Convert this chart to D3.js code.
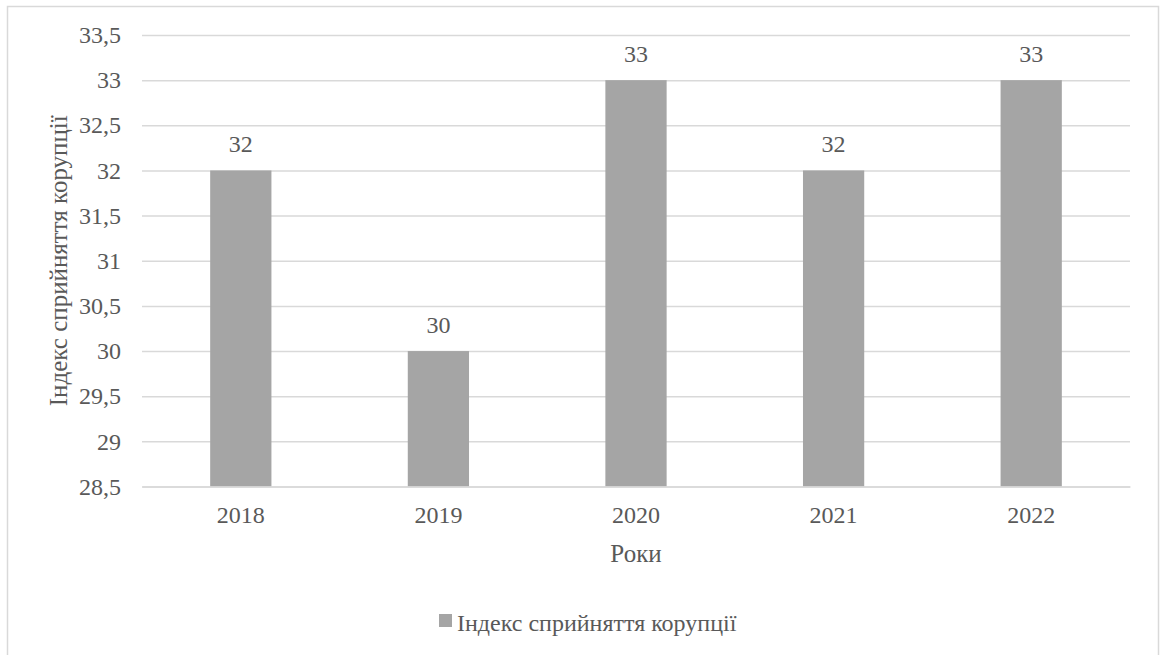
<!DOCTYPE html>
<html><head><meta charset="utf-8">
<script src="https://cdn.jsdelivr.net/npm/d3@7"></script>
<style>
@font-face{font-family:"ChartSerif";src:local("Liberation Serif"),local("LiberationSerif"),local("Liberation Serif Regular"),local("LiberationSerif-Regular");}
</style>
</head><body style="margin:0;background:#fff">
<svg id="c" width="1164" height="655" style="display:block" font-family="Liberation Serif"></svg>
<script>
const categories = ["2018","2019","2020","2021","2022"];
const values = [32,30,33,32,33];
const yTicks = [28.5,29,29.5,30,30.5,31,31.5,32,32.5,33,33.5];
const seriesName = "Індекс сприйняття корупції";
const xTitle = "Роки";
const yTitle = "Індекс сприйняття корупції";

const svg = d3.select("#c");
const m = {l:142, r:1130, t:35, b:486.5};
const txt = "#595959", grid = "#d9d9d9", bar = "#a5a5a5";
const FF = "Liberation Serif, ChartSerif, Times New Roman, serif";

function font(sel, size){
  sel.attr("font-family","Liberation Serif").attr("font-size",size)
     .style("font-family",FF).style("font-size",size+"px");
  return sel;
}

svg.append("rect").attr("x",7.5).attr("y",6.5).attr("width",1151).attr("height",660)
  .attr("fill","#fff").attr("stroke",grid).attr("stroke-width",1.5);

const x = d3.scaleBand().domain(categories).range([m.l,m.r]).paddingInner(0.69).paddingOuter(0.345);
const y = d3.scaleLinear().domain([28.5,33.5]).range([m.b,m.t]);

const fmt = d => String(d).replace(".",",");

const ya = svg.append("g").attr("transform",`translate(${m.l},0)`)
  .call(d3.axisLeft(y).tickValues(yTicks).tickFormat(fmt).tickSize(-(m.r-m.l)).tickPadding(21));
ya.attr("font-family","Liberation Serif").attr("font-size",24);
ya.select(".domain").remove();
ya.selectAll("line").attr("stroke",grid).attr("stroke-width",1.5);
font(ya.selectAll("text").attr("fill",txt), 24);

svg.selectAll(".bar").data(values).enter().append("rect")
  .attr("x",(d,i)=>x(categories[i])).attr("width",x.bandwidth())
  .attr("y",d=>y(d)).attr("height",d=>y(28.5)-y(d)).attr("fill",bar);

font(svg.selectAll(".lbl").data(values).enter().append("text")
  .attr("x",(d,i)=>x(categories[i])+x.bandwidth()/2).attr("y",d=>y(d)-18)
  .attr("text-anchor","middle").attr("fill",txt), 24).text(d=>d);

const xa = svg.append("g").attr("transform",`translate(0,${m.b})`)
  .call(d3.axisBottom(x).tickSize(0).tickPadding(19));
xa.attr("font-family","Liberation Serif").attr("font-size",24);
xa.select(".domain").attr("stroke",grid).attr("stroke-width",1.5);
font(xa.selectAll("text").attr("fill",txt), 24);

font(svg.append("text").attr("x",(m.l+m.r)/2).attr("y",562).attr("text-anchor","middle")
  .attr("fill",txt), 25).text(xTitle);

font(svg.append("text").attr("transform",`translate(67,${(m.t+m.b)/2}) rotate(-90)`)
  .attr("text-anchor","middle").attr("fill",txt), 25).text(yTitle);

const lg = svg.append("g");
lg.append("rect").attr("x",439).attr("y",614).attr("width",13).attr("height",13).attr("fill",bar);
font(lg.append("text").attr("x",457).attr("y",631).attr("fill",txt), 24).text(seriesName);
</script>
</body></html>
